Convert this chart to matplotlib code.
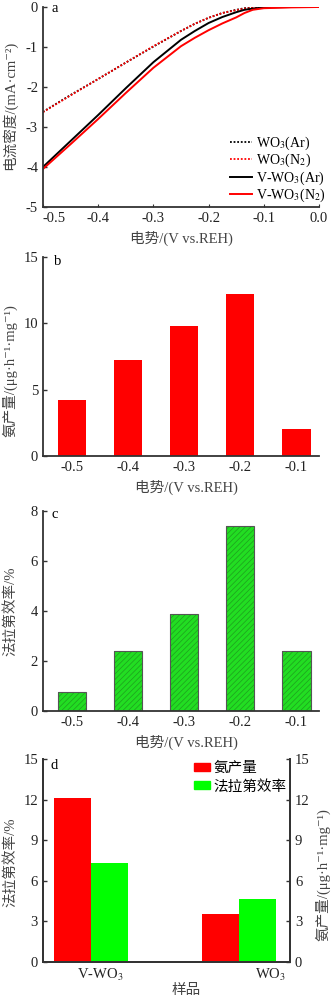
import matplotlib
matplotlib.use('Agg')
import matplotlib.pyplot as plt
from matplotlib.lines import Line2D
from matplotlib.patches import Patch
import numpy as np

plt.rcParams['font.family'] = ['Liberation Serif', 'Noto Sans CJK SC', 'DejaVu Serif']
plt.rcParams['mathtext.fontset'] = 'stix'
plt.rcParams['font.size'] = 10
plt.rcParams['hatch.linewidth'] = 0.5

# panel a: LSV curves
pot_a = [-0.5, -0.45, -0.4, -0.35, -0.3, -0.25, -0.225, -0.2, -0.175, -0.15, -0.135, -0.12, -0.1, -0.05, 0.0]
wo3_ar = [-2.62, -2.2, -1.8, -1.39, -0.99, -0.6, -0.42, -0.27, -0.15, -0.07, -0.03, -0.01, 0.0, 0.0, 0.0]
wo3_n2 = [-2.63, -2.21, -1.8, -1.39, -0.98, -0.6, -0.42, -0.27, -0.15, -0.08, -0.04, -0.02, -0.005, 0.0, 0.0]
vwo3_ar = [-4.0, -3.35, -2.7, -2.03, -1.38, -0.82, -0.6, -0.4, -0.25, -0.13, -0.07, -0.04, -0.01, 0.0, 0.0]
vwo3_n2 = [-4.05, -3.43, -2.8, -2.15, -1.52, -0.98, -0.77, -0.58, -0.41, -0.26, -0.15, -0.07, -0.03, -0.01, 0.0]

# panels b, c
pot_labels = ['-0.5', '-0.4', '-0.3', '-0.2', '-0.1']
nh3_rate = [4.25, 7.21, 9.8, 12.21, 2.06]
faradaic = [0.76, 2.39, 3.9, 7.42, 2.39]

# panel d
samples = ['V-WO$_3$', 'WO$_3$']
d_rate = [12.15, 3.57]
d_fe = [7.33, 4.65]

spine_c = '#333333'
label_c = '#444444'
FS = 10.5
rate_label = '氨产量/(μg·h⁻¹·mg⁻¹)'


def style_ax(ax, right=False):
    for s in ['top', 'right']:
        ax.spines[s].set_visible(False)
    if right:
        ax.spines['right'].set_visible(True)
    for s in ax.spines.values():
        s.set_color(spine_c)
        s.set_linewidth(1.3)
    ax.tick_params(axis='y', direction='in', length=3, width=1, colors=spine_c, labelcolor='#222222', labelsize=FS)
    ax.tick_params(axis='x', direction='in', length=0, colors=spine_c, labelcolor='#222222', labelsize=FS)


fig = plt.figure(figsize=(3.33, 10), dpi=100)

# ---- a
ax = fig.add_axes([0.129, 0.793, 0.829, 0.2])
ax.plot(pot_a, wo3_ar, color='black', ls=(0, (1, 1)), lw=1.3)
ax.plot(pot_a, wo3_n2, color='red', ls=(0, (1, 1)), lw=1.3)
ax.plot(pot_a, vwo3_ar, color='black', lw=1.4)
ax.plot(pot_a, vwo3_n2, color='red', lw=1.4)
ax.set_xlim(-0.5, 0.0)
ax.set_ylim(-5, 0)
ax.set_xticks([-0.5, -0.4, -0.3, -0.2, -0.1, 0.0])
ax.set_xticklabels(['-0.5', '-0.4', '-0.3', '-0.2', '-0.1', '0.0'])
ax.get_xticklabels()[0].set_ha('left')
ax.set_yticks([0, -1, -2, -3, -4, -5])
ax.set_yticklabels(['0', '-1', '-2', '-3', '-4', '-5'])
style_ax(ax)
ax.tick_params(axis='x', length=2)
ax.set_xlabel('电势/(V vs.REH)', color=label_c, fontsize=FS)
ax.set_ylabel('电流密度/(mA·cm⁻²)', color=label_c, fontsize=FS)
ax.yaxis.set_label_coords(-0.094, 0.51)
ax.text(0.03, 0.99, 'a', transform=ax.transAxes, va='center', ha='left', fontsize=FS)
handles = [Line2D([], [], color='black', ls=(0, (1, 1)), lw=1.3),
           Line2D([], [], color='red', ls=(0, (1, 1)), lw=1.3),
           Line2D([], [], color='black', lw=1.4),
           Line2D([], [], color='red', lw=1.4)]
labels = ['WO$_3$(Ar)', 'WO$_3$(N$_2$)', 'V-WO$_3$(Ar)', 'V-WO$_3$(N$_2$)']
ax.legend(handles, labels, loc='lower right', bbox_to_anchor=(1.025, 0.015), frameon=False,
          fontsize=10, handlelength=1.6, handletextpad=0.3, labelspacing=0.0, borderpad=0,
          borderaxespad=0)

# ---- b
x = np.arange(len(pot_labels))
ax = fig.add_axes([0.129, 0.544, 0.829, 0.199])
ax.bar(x, nh3_rate, width=0.5, color='red')
ax.set_xlim(-0.51, 4.4)
ax.set_ylim(0, 15)
ax.set_xticks(x)
ax.set_xticklabels(pot_labels)
ax.set_yticks([0, 5, 10, 15])
style_ax(ax)
ax.set_xlabel('电势/(V vs.REH)', color=label_c, fontsize=FS)
ax.xaxis.set_label_coords(0.52, -0.12)
ax.set_ylabel(rate_label, color=label_c, fontsize=FS)
ax.yaxis.set_label_coords(-0.094, 0.43)
ax.text(0.04, 0.975, 'b', transform=ax.transAxes, va='center', ha='left', fontsize=FS)

# ---- c
ax = fig.add_axes([0.129, 0.289, 0.829, 0.2])
ax.bar(x, faradaic, width=0.5, color='#22dd22', edgecolor='#1e9e1e', hatch='//////', linewidth=0)
ax.bar(x, faradaic, width=0.5, fill=False, edgecolor='#555555', linewidth=0.8)
ax.set_xlim(-0.51, 4.4)
ax.set_ylim(0, 8)
ax.set_xticks(x)
ax.set_xticklabels(pot_labels)
ax.set_yticks([0, 2, 4, 6, 8])
style_ax(ax)
ax.set_xlabel('电势/(V vs.REH)', color=label_c, fontsize=FS)
ax.xaxis.set_label_coords(0.52, -0.12)
ax.set_ylabel('法拉第效率/%', color=label_c, fontsize=FS)
ax.yaxis.set_label_coords(-0.094, 0.5)
ax.text(0.03, 0.98, 'c', transform=ax.transAxes, va='center', ha='left', fontsize=FS)

# ---- d
xd = np.arange(len(samples))
ax = fig.add_axes([0.129, 0.038, 0.742, 0.203])
ax.bar(xd - 0.125, d_rate, width=0.25, color='#ff0000')
ax.bar(xd + 0.125, d_fe, width=0.25, color='#00ff00')
ax.set_xlim(-0.324, 1.345)
ax.set_ylim(0, 15)
ax.set_xticks([0.06, 1.21])
ax.set_xticklabels(samples)
ax.set_yticks([0, 3, 6, 9, 12, 15])
style_ax(ax, right=True)
ax.set_xlabel('样品', color=label_c, fontsize=FS)
ax.xaxis.set_label_coords(0.58, -0.11)
ax.set_ylabel('法拉第效率/%', color=label_c, fontsize=FS)
ax.yaxis.set_label_coords(-0.105, 0.49)
ax.text(0.03, 0.97, 'd', transform=ax.transAxes, va='center', ha='left', fontsize=FS)
ax2 = ax.twinx()
ax2.set_ylim(0, 15)
ax2.set_yticks([0, 3, 6, 9, 12, 15])
ax2.spines['top'].set_visible(False)
for s in ax2.spines.values():
    s.set_color(spine_c)
    s.set_linewidth(1.3)
ax2.tick_params(axis='y', direction='in', length=3, width=1, colors=spine_c, labelcolor='#222222', labelsize=FS)
ax2.set_ylabel(rate_label, color=label_c, fontsize=FS)
ax2.yaxis.set_label_coords(1.10, 0.43)
leg_h = [Patch(color='#ff0000'), Patch(color='#00ff00')]
ax.legend(leg_h, ['氨产量', '法拉第效率'], loc='upper right', bbox_to_anchor=(0.985, 0.985), frameon=False,
          fontsize=FS, handlelength=1.1, handleheight=0.5, handletextpad=0.2, labelspacing=0.3, borderpad=0,
          borderaxespad=0)

fig.savefig('out.png', dpi=100)
